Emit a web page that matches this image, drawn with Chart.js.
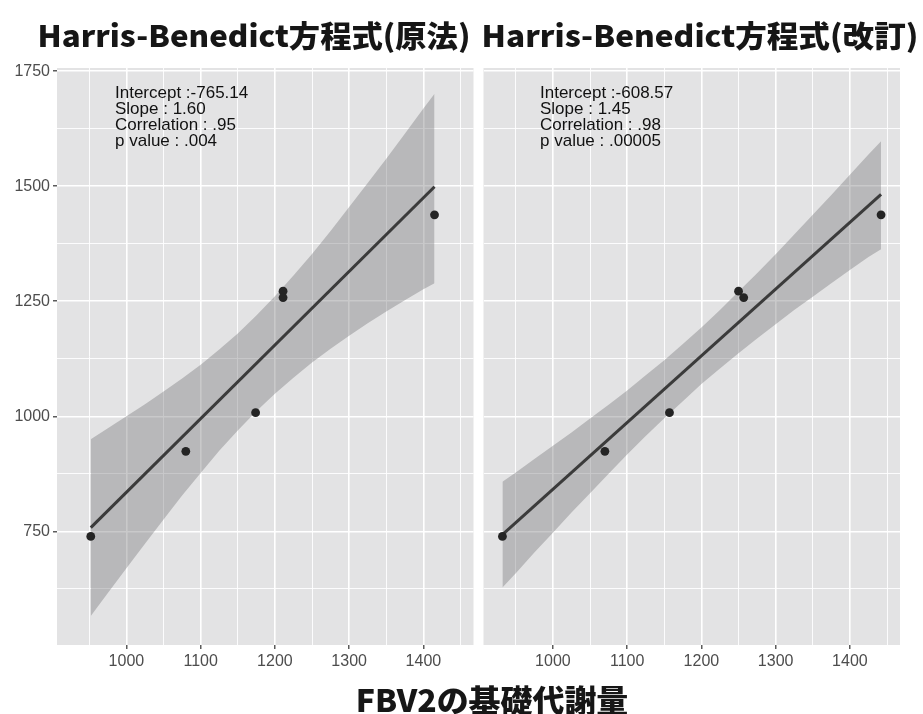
<!DOCTYPE html>
<html>
<head>
<meta charset="utf-8">
<script src="https://cdn.jsdelivr.net/npm/chart.js@4/dist/chart.umd.min.js"></script>
<style>
  html, body { margin: 0; padding: 0; background: #ffffff; }
  #wrap { position: relative; width: 923px; height: 714px; overflow: hidden; background: #ffffff; }
  canvas { position: absolute; top: 0; }
  .ttl {
    position: absolute; white-space: nowrap; line-height: 1;
    font-family: "Noto Sans CJK JP", "Noto Sans", sans-serif; font-weight: 900;
    color: #161616; transform-origin: 50% 50%;
  }
</style>
</head>
<body>
<div id="wrap">
  <canvas id="cLeft" width="478" height="682" style="left:0px;width:478px;height:682px"></canvas>
  <canvas id="cRight" width="445" height="682" style="left:478px;width:445px;height:682px"></canvas>
  <div class="ttl" id="t1" style="font-size:30px"></div>
  <div class="ttl" id="t2" style="font-size:30px"></div>
  <div class="ttl" id="tx" style="font-size:31px"></div>
</div>
<script>
// ---- text ----
const titleLeft = 'Harris-Benedict方程式(原法)';
const titleRight = 'Harris-Benedict方程式(改訂)';
const xAxisTitle = 'FBV2の基礎代謝量';

// ---- measured BMR (y, shared by both panels) ----
const measured = [739, 924, 1008, 1272, 1258, 1438];

// ---- original equation panel ----
const origX = [952, 1080, 1174, 1211, 1211, 1415];
const origIntercept = -765.14;
const origSlope = 1.60;
const origStats = ['Intercept :-765.14', 'Slope : 1.60', 'Correlation : .95', 'p value : .004'];
const origBandX = [952, 975, 1000, 1025, 1050, 1075, 1100, 1125, 1150, 1175, 1200, 1225, 1250, 1275, 1300, 1325, 1350, 1375, 1400, 1415];
const origBandHi = [950, 974, 1000, 1026, 1054, 1082, 1112, 1145, 1180, 1219, 1261, 1306, 1353, 1403, 1455, 1507, 1560, 1614, 1669, 1701];
const origBandLo = [566, 616, 670, 723, 776, 828, 877, 925, 969, 1011, 1049, 1084, 1117, 1147, 1175, 1202, 1228, 1252, 1276, 1289];

// ---- revised equation panel ----
const revX = [932, 1070, 1157, 1250, 1257, 1442];
const revIntercept = -608.57;
const revSlope = 1.45;
const revStats = ['Intercept :-608.57', 'Slope : 1.45', 'Correlation : .98', 'p value : .00005'];
const revBandX = [932, 950, 975, 1000, 1025, 1050, 1075, 1100, 1125, 1150, 1175, 1200, 1225, 1250, 1275, 1300, 1325, 1350, 1375, 1400, 1425, 1442];
const revBandHi = [858, 878, 907, 936, 965, 995, 1025, 1056, 1089, 1122, 1157, 1193, 1231, 1271, 1311, 1352, 1395, 1438, 1481, 1525, 1569, 1598];
const revBandLo = [628, 659, 704, 747, 791, 833, 875, 917, 957, 996, 1033, 1070, 1104, 1137, 1169, 1200, 1231, 1260, 1289, 1318, 1346, 1363];

// ---- axes ----
const xRange = [906.5, 1467.5];
const yRange = [503, 1757];
const xGrid = [950, 1000, 1050, 1100, 1150, 1200, 1250, 1300, 1350, 1400, 1450];
const xLabels = [1000, 1100, 1200, 1300, 1400];
const yGrid = [625, 750, 875, 1000, 1125, 1250, 1375, 1500, 1625, 1750];
const yLabels = [750, 1000, 1250, 1500, 1750];

const PANEL_BG = '#e3e3e4';
const BAND = 'rgba(120,120,122,0.40)';
const LINE = '#3b3b3b';
const DOT = '#242424';
const TICK_FONT = { family: '"Liberation Sans", Arial, sans-serif', size: 16 };

const panelBg = {
  id: 'panelBg',
  beforeDraw(chart) {
    const a = chart.chartArea, ctx = chart.ctx;
    ctx.save();
    ctx.fillStyle = PANEL_BG;
    ctx.fillRect(a.left, a.top, a.right - a.left, a.bottom - a.top);
    ctx.restore();
  }
};

const statsText = {
  id: 'statsText',
  afterDatasetsDraw(chart, args, opts) {
    const ctx = chart.ctx, a = chart.chartArea;
    ctx.save();
    ctx.font = '17px "Liberation Sans", Arial, sans-serif';
    ctx.fillStyle = '#111111';
    ctx.textAlign = 'left';
    ctx.textBaseline = 'middle';
    opts.lines.forEach((s, i) => {
      ctx.fillText(s, a.left + opts.dx, a.top + opts.dy + i * 16);
    });
    ctx.restore();
  }
};

function pts(xs, ys) { return xs.map((x, i) => ({ x: x, y: ys[i] })); }

function makeChart(id, cfg) {
  const fitLine = [
    { x: Math.min(...cfg.x), y: cfg.intercept + cfg.slope * Math.min(...cfg.x) },
    { x: Math.max(...cfg.x), y: cfg.intercept + cfg.slope * Math.max(...cfg.x) }
  ];
  return new Chart(document.getElementById(id), {
    type: 'scatter',
    data: {
      datasets: [
        { data: pts(cfg.x, measured), backgroundColor: DOT, borderColor: DOT, pointRadius: 4.4, borderWidth: 0, order: 0 },
        { data: fitLine, showLine: true, borderColor: LINE, borderWidth: 3, pointRadius: 0, fill: false, order: 1 },
        { data: pts(cfg.bandX, cfg.bandHi), showLine: true, borderWidth: 0, borderColor: 'rgba(0,0,0,0)', pointRadius: 0,
          backgroundColor: BAND, fill: '+1', order: 2 },
        { data: pts(cfg.bandX, cfg.bandLo), showLine: true, borderWidth: 0, borderColor: 'rgba(0,0,0,0)', pointRadius: 0,
          fill: false, order: 3 }
      ]
    },
    options: {
      responsive: false,
      animation: false,
      devicePixelRatio: 1,
      layout: { padding: { top: 68, right: cfg.padRight, left: 0, bottom: 0 } },
      plugins: {
        legend: { display: false },
        tooltip: { enabled: false },
        statsText: { lines: cfg.stats, dx: cfg.textDx, dy: 25 }
      },
      scales: {
        x: {
          type: 'linear', position: 'bottom', min: xRange[0], max: xRange[1],
          afterBuildTicks: s => { s.ticks = xGrid.map(v => ({ value: v })); },
          afterFit: s => { s.height = 37; },
          border: { display: false },
          grid: {
            color: '#ffffff',
            lineWidth: c => (c.tick && xLabels.includes(c.tick.value)) ? 1.6 : 0.9,
            drawTicks: true, tickLength: 4, tickWidth: 1.2,
            tickColor: c => (c.tick && xLabels.includes(c.tick.value)) ? '#333333' : 'rgba(0,0,0,0)'
          },
          ticks: {
            autoSkip: false, maxRotation: 0, padding: 3, color: '#4d4d4d', font: TICK_FONT,
            callback: v => xLabels.includes(v) ? String(v) : ''
          }
        },
        y: {
          type: 'linear', min: yRange[0], max: yRange[1],
          afterBuildTicks: s => { s.ticks = yGrid.map(v => ({ value: v })); },
          afterFit: s => { s.width = cfg.yWidth; },
          border: { display: false },
          grid: {
            color: '#ffffff',
            lineWidth: c => (c.tick && yLabels.includes(c.tick.value)) ? 1.6 : 0.9,
            drawTicks: cfg.showY, tickLength: 4, tickWidth: 1.2,
            tickColor: c => (c.tick && yLabels.includes(c.tick.value)) ? '#333333' : 'rgba(0,0,0,0)'
          },
          ticks: {
            display: cfg.showY, autoSkip: false, padding: 3, color: '#4d4d4d', font: TICK_FONT,
            callback: v => yLabels.includes(v) ? String(v) : ''
          }
        }
      }
    },
    plugins: [panelBg, statsText]
  });
}

makeChart('cLeft', {
  x: origX, intercept: origIntercept, slope: origSlope, stats: origStats,
  bandX: origBandX, bandHi: origBandHi, bandLo: origBandLo,
  padRight: 4.5, yWidth: 57, showY: true, textDx: 58
});
makeChart('cRight', {
  x: revX, intercept: revIntercept, slope: revSlope, stats: revStats,
  bandX: revBandX, bandHi: revBandHi, bandLo: revBandLo,
  padRight: 23, yWidth: 5.5, showY: false, textDx: 56.5
});

// headings, stretched to their set widths
function placeTitle(id, text, cx, cy, width) {
  const el = document.getElementById(id);
  el.textContent = text;
  el.style.left = cx + 'px';
  el.style.top = cy + 'px';
  const k = width / el.offsetWidth;
  el.style.transform = 'translate(-50%, -50%) scaleX(' + k.toFixed(4) + ')';
}
placeTitle('t1', titleLeft, 253.5, 34, 433);
placeTitle('t2', titleRight, 700, 34, 437);
placeTitle('tx', xAxisTitle, 491.5, 698, 273);
</script>
</body>
</html>
